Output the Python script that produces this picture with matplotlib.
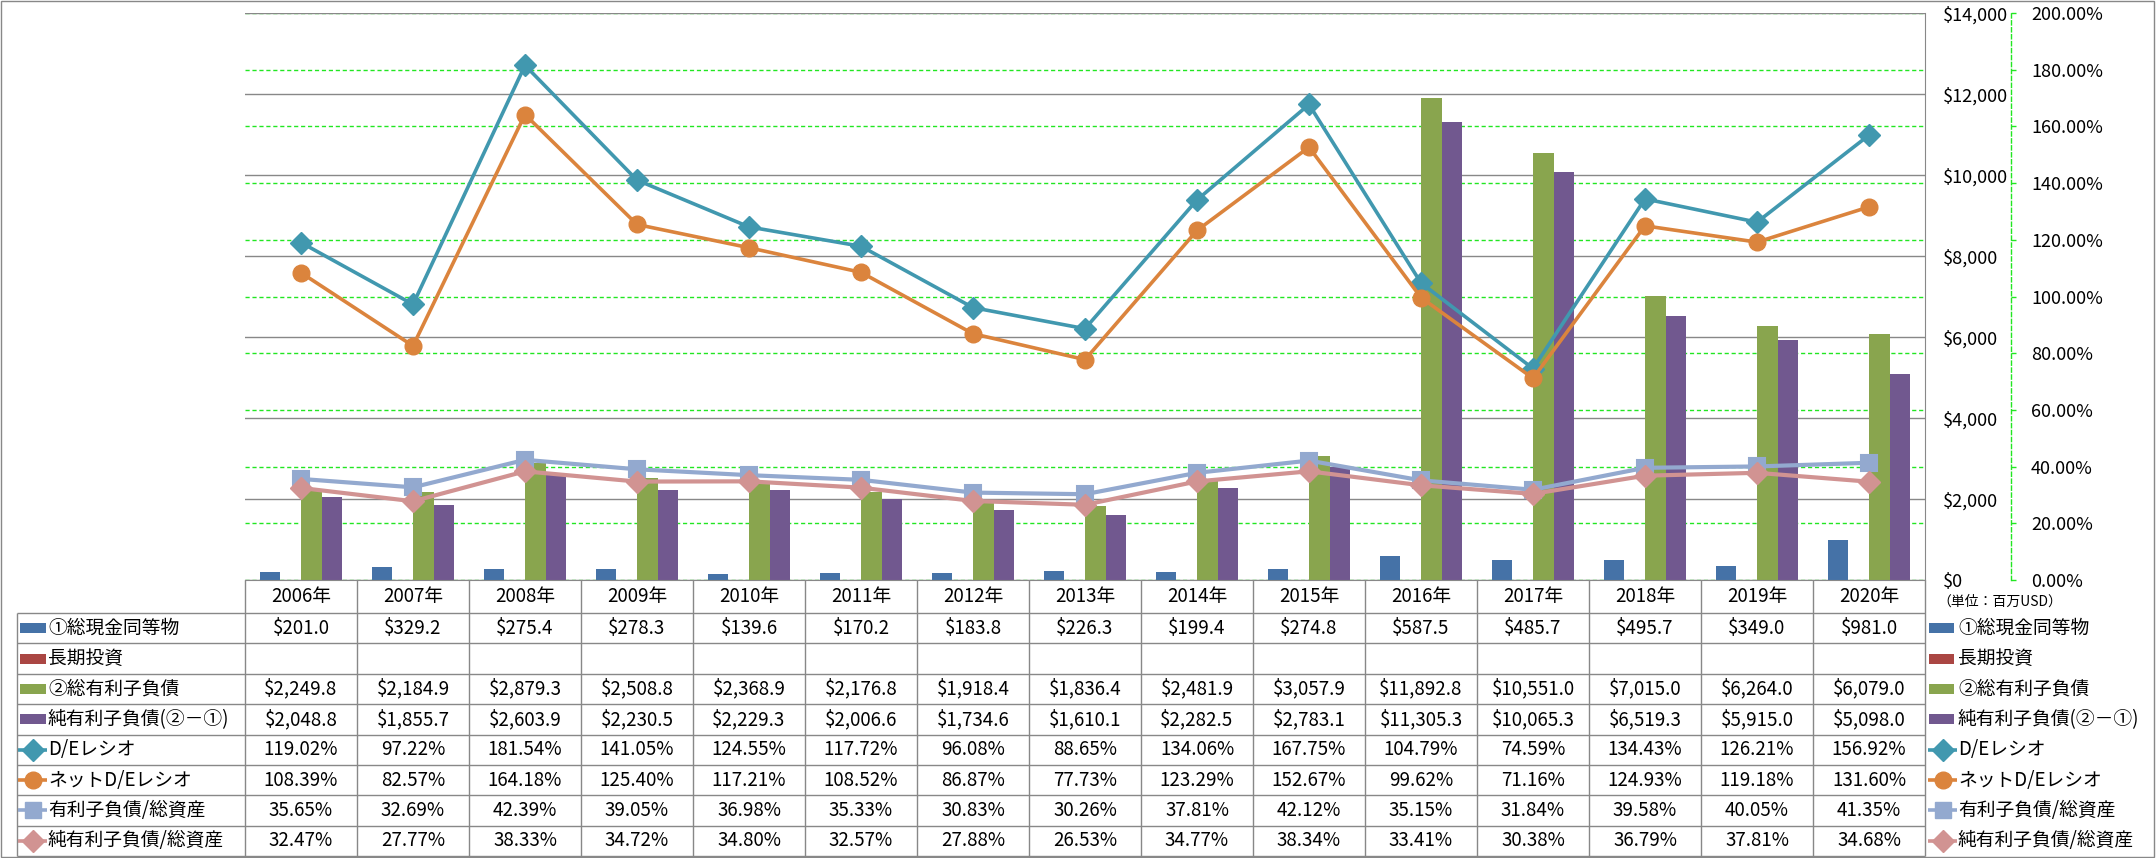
import matplotlib
matplotlib.use('Agg')
import matplotlib.pyplot as plt
from matplotlib.patches import Rectangle
import numpy as np

plt.rcParams['font.family'] = ['Noto Sans CJK JP', 'DejaVu Sans']

# ---------------- data ----------------
years = [2006, 2007, 2008, 2009, 2010, 2011, 2012, 2013, 2014, 2015,
         2016, 2017, 2018, 2019, 2020]
cash = [201.0, 329.2, 275.4, 278.3, 139.6, 170.2, 183.8, 226.3, 199.4, 274.8,
        587.5, 485.7, 495.7, 349.0, 981.0]
long_term_inv = [None] * 15
debt = [2249.8, 2184.9, 2879.3, 2508.8, 2368.9, 2176.8, 1918.4, 1836.4, 2481.9, 3057.9,
        11892.8, 10551.0, 7015.0, 6264.0, 6079.0]
net_debt = [2048.8, 1855.7, 2603.9, 2230.5, 2229.3, 2006.6, 1734.6, 1610.1, 2282.5, 2783.1,
            11305.3, 10065.3, 6519.3, 5915.0, 5098.0]
de_ratio = [119.02, 97.22, 181.54, 141.05, 124.55, 117.72, 96.08, 88.65, 134.06, 167.75,
            104.79, 74.59, 134.43, 126.21, 156.92]
net_de_ratio = [108.39, 82.57, 164.18, 125.40, 117.21, 108.52, 86.87, 77.73, 123.29, 152.67,
                99.62, 71.16, 124.93, 119.18, 131.60]
debt_to_assets = [35.65, 32.69, 42.39, 39.05, 36.98, 35.33, 30.83, 30.26, 37.81, 42.12,
                  35.15, 31.84, 39.58, 40.05, 41.35]
net_debt_to_assets = [32.47, 27.77, 38.33, 34.72, 34.80, 32.57, 27.88, 26.53, 34.77, 38.34,
                      33.41, 30.38, 36.79, 37.81, 34.68]

dollar_ticks = [0, 2000, 4000, 6000, 8000, 10000, 12000, 14000]
dollar_labels = ['$0', '$2,000', '$4,000', '$6,000', '$8,000', '$10,000', '$12,000', '$14,000']
pct_ticks = [0, 20, 40, 60, 80, 100, 120, 140, 160, 180, 200]
pct_labels = ['0.00%', '20.00%', '40.00%', '60.00%', '80.00%', '100.00%', '120.00%',
              '140.00%', '160.00%', '180.00%', '200.00%']

names = ['①総現金同等物', '長期投資', '②総有利子負債', '純有利子負債(②－①)',
         'D/Eレシオ', 'ネットD/Eレシオ', '有利子負債/総資産', '純有利子負債/総資産']
unit_label = '（単位：百万USD）'

# ---------------- style ----------------
C_BLUE, C_RED, C_GREEN, C_PURPLE = '#4572A7', '#AA4643', '#89A54E', '#71588F'
C_TEAL, C_ORANGE, C_LBLUE, C_PINK = '#4198AF', '#DB843D', '#93A9CF', '#D19392'
GRAY = '#888888'
LIME = '#22E622'

W, H = 2156, 858
PX = 72.0 / 100.0
FS = 13.5

fig = plt.figure(figsize=(W / 100, H / 100), dpi=100)


def fr(l, t, r, b):
    return [l / W, 1 - b / H, (r - l) / W, (b - t) / H]


PL, PT, PR, PB = 245, 13, 1925, 580
rect = fr(PL, PT, PR, PB)

# overlay axes in pixel coordinates for the data table
ax_tab = fig.add_axes([0, 0, 1, 1])
ax_tab.set_xlim(0, W)
ax_tab.set_ylim(H, 0)
ax_tab.set_axis_off()

ax_grid = fig.add_axes(rect)
ax_bar = fig.add_axes(rect)
ax_line = fig.add_axes(rect)
for z, a in enumerate((ax_grid, ax_bar, ax_line)):
    a.set_zorder(z + 1)
    a.patch.set_alpha(0)
    a.set_xlim(-0.5, len(years) - 0.5)
    a.set_xticks([])

x = np.arange(len(years))

# green dashed percent gridlines (behind bars)
ax_grid.set_ylim(0, 200)
ax_grid.set_yticks(pct_ticks)
ax_grid.tick_params(left=False, labelleft=False, bottom=False, labelbottom=False)
ax_grid.grid(axis='y', color=LIME, linestyle=(0, (3, 2)), linewidth=1.0)
for s in ax_grid.spines.values():
    s.set_visible(False)

# bars
bw = 0.185
ax_bar.set_ylim(0, 14000)
ax_bar.bar(x - 1.5 * bw, cash, width=bw, color=C_BLUE, zorder=2)
if any(v is not None for v in long_term_inv):
    ax_bar.bar(x - 0.5 * bw, [v or 0 for v in long_term_inv], width=bw, color=C_RED, zorder=2)
ax_bar.bar(x + 0.5 * bw, debt, width=bw, color=C_GREEN, zorder=2)
ax_bar.bar(x + 1.5 * bw, net_debt, width=bw, color=C_PURPLE, zorder=2)
ax_bar.yaxis.tick_right()
ax_bar.set_yticks(dollar_ticks, dollar_labels)
ax_bar.tick_params(axis='y', length=0, pad=18 * PX, labelsize=13)
ax_bar.grid(axis='y', color=GRAY, linewidth=1.0)
ax_bar.set_axisbelow(True)
ax_bar.spines['left'].set_visible(False)
ax_bar.spines['top'].set_visible(False)
ax_bar.spines['right'].set_color(GRAY)
ax_bar.spines['bottom'].set_color(GRAY)

# lines on percent axis
ax_line.set_ylim(0, 200)
ax_line.plot(x, de_ratio, color=C_TEAL, lw=2.6, marker='D', ms=11.5, mec=C_TEAL)
ax_line.plot(x, net_de_ratio, color=C_ORANGE, lw=2.6, marker='o', ms=12, mec=C_ORANGE)
ax_line.plot(x, debt_to_assets, color=C_LBLUE, lw=3, marker='s', ms=11, mec=C_LBLUE,
             mew=1.5)
ax_line.plot(x, net_debt_to_assets, color=C_PINK, lw=3, marker='D', ms=11.5, mec=C_PINK)
ax_line.yaxis.tick_right()
ax_line.set_yticks(pct_ticks, pct_labels)
for k in ('left', 'top', 'bottom'):
    ax_line.spines[k].set_visible(False)
sp = ax_line.spines['right']
sp.set_position(('outward', 86 * PX))
sp.set_color(LIME)
sp.set_linestyle((0, (3, 2)))
sp.set_linewidth(1.0)
ax_line.tick_params(axis='y', direction='out', length=5 * PX, width=1, color=LIME,
                    pad=15 * PX, labelsize=13)

# ---------------- data table ----------------
ncol = len(years)
cw = (PR - PL) / ncol
HT, HB = PB, 613
TB = 856
rh = (TB - HB) / 8.0
LX = 16.5


def hline(y, x0, x1):
    ax_tab.plot([x0, x1], [y, y], color=GRAY, lw=1.0, solid_capstyle='butt')


def vline(xx, y0, y1):
    ax_tab.plot([xx, xx], [y0, y1], color=GRAY, lw=1.0, solid_capstyle='butt')


for i in range(ncol + 1):
    vline(PL + i * cw, HT, TB)
vline(LX, HB, TB)
for r in range(9):
    hline(HB + r * rh, LX, PR)

for i, yv in enumerate(years):
    ax_tab.text(PL + (i + 0.5) * cw, (HT + HB) / 2, f'{yv}年', ha='center', va='center',
                fontsize=FS)

series = [
    (cash, 'bar', C_BLUE, None, 'd'),
    (long_term_inv, 'bar', C_RED, None, 'd'),
    (debt, 'bar', C_GREEN, None, 'd'),
    (net_debt, 'bar', C_PURPLE, None, 'd'),
    (de_ratio, 'line', C_TEAL, 'D', 'p'),
    (net_de_ratio, 'line', C_ORANGE, 'o', 'p'),
    (debt_to_assets, 'line', C_LBLUE, 's', 'p'),
    (net_debt_to_assets, 'line', C_PINK, 'D', 'p'),
]


def key(x0, x1, yc, kind, color, mk):
    if kind == 'bar':
        ax_tab.add_patch(Rectangle((x0, yc - 5), x1 - x0, 10, color=color, lw=0))
    else:
        ax_tab.plot([x0, x1], [yc, yc], color=color, lw=2.6, solid_capstyle='butt')
        ms = {'D': 11.5, 'o': 12, 's': 11}[mk]
        ax_tab.plot([(x0 + x1) / 2], [yc], marker=mk, ms=ms, color=color, mec=color)


for r, (vals, kind, color, mk, fmt) in enumerate(series):
    yc = HB + (r + 0.5) * rh
    if kind == 'bar':
        key(20, 46, yc, kind, color, mk)
        key(1929, 1954, yc, kind, color, mk)
    else:
        key(18, 47, yc, kind, color, mk)
        key(1928, 1957, yc, kind, color, mk)
    ax_tab.text(48, yc, names[r], ha='left', va='center', fontsize=FS)
    ax_tab.text(1958, yc, names[r], ha='left', va='center', fontsize=FS)
    for i, v in enumerate(vals):
        if v is None:
            continue
        s = f'${v:,.1f}' if fmt == 'd' else f'{v:.2f}%'
        ax_tab.text(PL + (i + 0.5) * cw, yc, s, ha='center', va='center', fontsize=FS)

ax_tab.text(1937, 602, unit_label, ha='left', va='center', fontsize=10)

# outer border
ax_tab.add_patch(Rectangle((1, 1), W - 3, H - 2.5, fill=False, edgecolor=GRAY, lw=1.0))

fig.savefig('out.png', dpi=100)
